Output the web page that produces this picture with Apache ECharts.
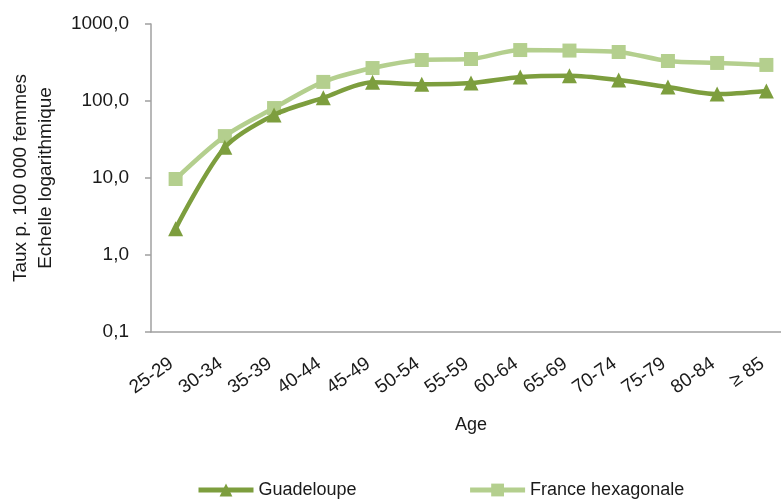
<!DOCTYPE html>
<html>
<head>
<meta charset="utf-8">
<script src="https://cdn.jsdelivr.net/npm/echarts@6/dist/echarts.min.js"></script>
<style>html,body{margin:0;padding:0;background:#fff}#c{width:781px;height:500px}</style>
</head>
<body>
<div id="c"></div>
<script>
var categories = ['25-29','30-34','35-39','40-44','45-49','50-54','55-59','60-64','65-69','70-74','75-79','80-84','\u2265 85'];
var guadeloupe = [2.2, 25, 66, 110, 175, 165, 171, 205, 213, 187, 152, 123, 135];
var france = [9.7, 35, 81, 177, 268, 341, 351, 459, 452, 433, 331, 312, 294];
var yTicks = [0.1, 1, 10, 100, 1000];

var FONT = 'Liberation Sans, Arial, sans-serif';
var chart = echarts.init(document.getElementById('c'), null, {renderer: 'canvas'});
chart.setOption({
  animation: false,
  grid: {left: 151, top: 24, width: 640, height: 308, containLabel: false, outerBoundsMode: 'none'},
  legend: {
    top: 476, left: 191, itemWidth: 55, itemHeight: 16, itemGap: 111,
    textStyle: {fontFamily: FONT, fontSize: 18, color: '#1a1a1a'},
    lineStyle: {width: 5},
    data: ['Guadeloupe', 'France hexagonale']
  },
  xAxis: {
    type: 'category', data: categories,
    name: 'Age', nameLocation: 'middle', nameGap: 84,
    nameTextStyle: {fontFamily: FONT, fontSize: 18, color: '#1a1a1a'},
    axisLine: {lineStyle: {color: '#a0a0a0', width: 1.5}},
    axisTick: {length: 6, lineStyle: {color: '#a0a0a0', width: 1.5}},
    axisLabel: {rotate: 35, fontFamily: FONT, fontSize: 19, color: '#1a1a1a', margin: 27, interval: 0,
      padding: [0, 5, 0, 0]},
    splitLine: {show: false}
  },
  yAxis: {
    type: 'log', logBase: 10, min: yTicks[0], max: yTicks[yTicks.length - 1],
    name: 'Taux p. 100 000 femmes\nEchelle logarithmique', nameLocation: 'middle', nameGap: 93,
    nameTextStyle: {fontFamily: FONT, fontSize: 19, color: '#1a1a1a', lineHeight: 25},
    axisLine: {show: true, lineStyle: {color: '#a0a0a0', width: 1.5}},
    axisTick: {show: true, length: 6, lineStyle: {color: '#a0a0a0', width: 1.5}},
    axisLabel: {fontFamily: FONT, fontSize: 19, color: '#1a1a1a', margin: 22,
      formatter: function (v) { return Number(v).toFixed(1).replace('.', ','); }},
    splitLine: {show: false}, minorTick: {show: false}
  },
  series: [
    {
      name: 'Guadeloupe', type: 'line', data: guadeloupe, smooth: 0.3,
      symbol: 'triangle', symbolSize: 15,
      lineStyle: {color: '#7d9e3e', width: 4.5},
      itemStyle: {color: '#7d9e3e'}, z: 3
    },
    {
      name: 'France hexagonale', type: 'line', data: france, smooth: 0.3,
      symbol: 'rect', symbolSize: 14,
      lineStyle: {color: '#b4cf8e', width: 4.5},
      itemStyle: {color: '#b4cf8e'}, z: 2
    }
  ]
});
</script>
</body>
</html>
